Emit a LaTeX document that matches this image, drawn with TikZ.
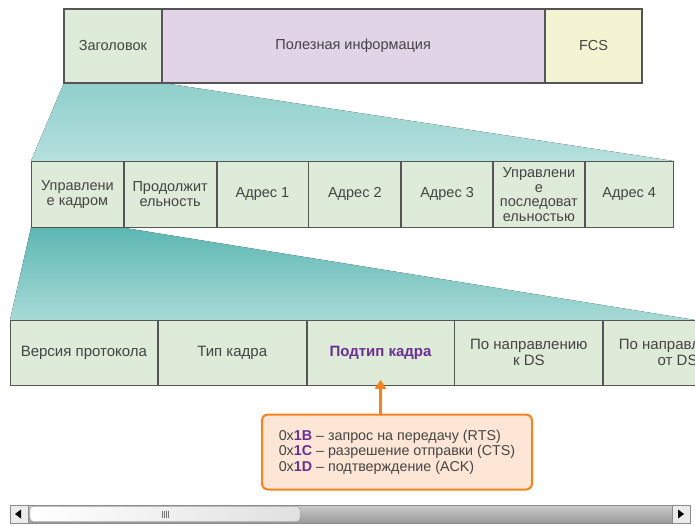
\documentclass[tikz,border=0pt]{standalone}
\usepackage{fontspec}
\setmainfont{Liberation Sans}
\usetikzlibrary{arrows.meta,backgrounds}
\definecolor{cellgreen}{HTML}{DDEBD8}
\definecolor{cellpurple}{HTML}{E0D4E6}
\definecolor{cellyellow}{HTML}{F4F4D2}
\definecolor{edge}{HTML}{555555}
\definecolor{txt}{HTML}{444444}
\definecolor{purp}{HTML}{6B2F93}
\definecolor{orng}{HTML}{F5821F}
\definecolor{peach}{HTML}{FDE6D5}
\definecolor{tealA}{HTML}{8FCFCB}
\definecolor{tealB}{HTML}{B5E0DD}
\definecolor{tealC}{HTML}{5DB7B3}
\definecolor{tealD}{HTML}{A8DAD6}
\tikzset{
  cell/.style={draw=edge, line width=0.8pt, fill=cellgreen, anchor=north west, inner sep=0pt,
    align=center, text=txt, font=\fontsize{14.5}{15}\selectfont},
  bigcell/.style={cell, font=\fontsize{15}{16}\selectfont},
  note/.style={draw=orng, line width=2pt, fill=peach, rounded corners=6pt, inner sep=0pt,
    minimum width=270, minimum height=75, align=left, text=txt, font=\fontsize{14.3}{15.5}\selectfont},
  pointer/.style={draw=orng, line width=2.5pt, -{Triangle[width=11pt,length=9pt]}},
}
\begin{document}
\begin{tikzpicture}[x=1pt,y=-1pt]
\useasboundingbox (0,0) rectangle (695,526);
% top frame
\node[cell, fill=cellgreen, minimum width=97, minimum height=73] (hdr) at (64,9) {Заголовок};
\node[cell, fill=cellpurple, minimum width=382, minimum height=73] (pay) at (hdr.north east) {Полезная информация};
\node[cell, fill=cellyellow, minimum width=97, minimum height=73] (fcs) at (pay.north east) {FCS};
\draw[edge, line width=2pt] (hdr.north west) rectangle (fcs.south east);
% second row
\node[cell, minimum width=92, minimum height=66] (fc) at (31,161) {Управлени\\е кадром};
\node[cell, minimum width=92, minimum height=66] (dur) at (fc.north east) {Продолжит\\ельность};
\node[cell, minimum width=91, minimum height=66] (a1) at (dur.north east) {Адрес 1};
\node[cell, minimum width=92, minimum height=66] (a2) at (a1.north east) {Адрес 2};
\node[cell, minimum width=91, minimum height=66] (a3) at (a2.north east) {Адрес 3};
\node[cell, minimum width=91, minimum height=66, font=\fontsize{14.5}{14.5}\selectfont] (sc) at (a3.north east) {Управлени\\е\\последоват\\ельностью};
\node[cell, minimum width=88, minimum height=66] (a4) at (sc.north east) {Адрес 4};
% third row
\begin{scope}
\clip (0,300) rectangle (695,400);
\node[bigcell, minimum width=147, minimum height=65] (ver) at (10,320) {Версия протокола};
\node[bigcell, minimum width=148, minimum height=65] (typ) at (ver.north east) {Тип кадра};
\node[bigcell, minimum width=147, minimum height=65, text=purp, font=\fontsize{15}{16}\selectfont\bfseries] (sub) at (typ.north east) {Подтип кадра};
\node[bigcell, minimum width=148, minimum height=65] (tds) at (sub.north east) {По направлению\\к DS};
\node[bigcell, minimum width=148, minimum height=65] (fds) at (tds.north east) {По направлению\\от DS};
\end{scope}
% funnels
\begin{scope}[on background layer]
\fill[top color=tealA, bottom color=tealB] (hdr.south west) -- (hdr.south east) -- (a4.north east) -- (fc.north west) -- cycle;
\fill[top color=tealC, bottom color=tealD] (fc.south west) -- (fc.south east) -- (695,320) -- (ver.north west) -- cycle;
\end{scope}
% note
\node[note] (box) at (397,452) {0x\textcolor{purp}{\textbf{1B}} – запрос на передачу (RTS)\\
0x\textcolor{purp}{\textbf{1C}} – разрешение отправки (CTS)\\
0x\textcolor{purp}{\textbf{1D}} – подтверждение (ACK)};
\draw[pointer] (box.north -| sub.south) -- ([yshift=6pt]sub.south);
% scrollbar
\draw[draw=black!45, top color=black!20, bottom color=black!40] (10,505) rectangle (690,523);
\draw[draw=black!45, fill=black!8] (10,505) rectangle (28,523);
\fill[black] (15,514) -- (21,509.5) -- (21,518.5) -- cycle;
\draw[draw=black!45, fill=black!8] (672,505) rectangle (690,523);
\fill[black] (684,514) -- (678,509.5) -- (678,518.5) -- cycle;
\draw[draw=black!45, rounded corners=3pt, left color=white, right color=black!12] (30,506.5) rectangle (300,521.5);
\foreach \gx in {162,164,166,168}{\draw[black!55, line width=0.6pt] (\gx,510.5) -- (\gx,517.5);}
\end{tikzpicture}
\end{document}
